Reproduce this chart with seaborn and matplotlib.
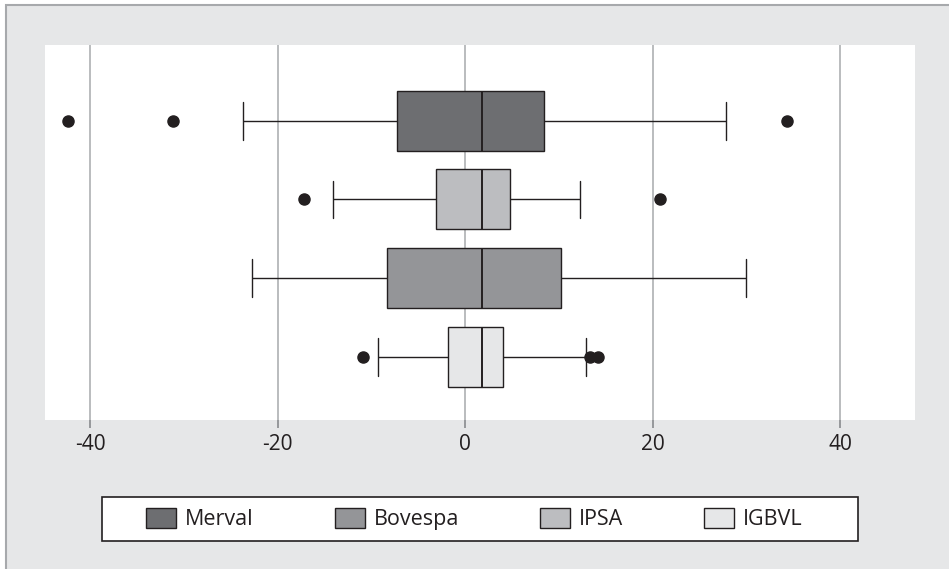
import numpy as np
import pandas as pd
import matplotlib
matplotlib.use("Agg")
import matplotlib.pyplot as plt
from matplotlib.patches import Patch, Rectangle
import seaborn as sns

# ---- data ----
indices = ["Merval", "IPSA", "Bovespa", "IGBVL"]          # top -> bottom
legend_order = ["Merval", "Bovespa", "IPSA", "IGBVL"]
q1 = [-7.25, -3.1, -8.3, -1.8]
median = [1.8, 1.8, 1.8, 1.8]
q3 = [8.4, 4.75, 10.2, 4.1]
whisker_low = [-23.7, -14.1, -22.7, -9.3]
whisker_high = [27.8, 12.3, 30.0, 12.9]
outliers_low = [[-42.4, -31.1], [-17.2], [], [-10.9]]
outliers_high = [[34.3], [20.75], [], [13.3, 14.2]]
colors = {"Merval": "#6d6e71", "Bovespa": "#949598", "IPSA": "#bcbdc0", "IGBVL": "#e6e7e8"}
xticks = [-40, -20, 0, 20, 40]

# observations that reproduce each box's quartiles, whiskers and outliers
rows = []
for i, name in enumerate(indices):
    lows = outliers_low[i] + [whisker_low[i]] * (3 - len(outliers_low[i]))
    highs = [whisker_high[i]] * (3 - len(outliers_high[i])) + outliers_high[i]
    obs = lows + [q1[i], q1[i], median[i], median[i], median[i], q3[i], q3[i]] + highs
    rows += [(name, v) for v in obs]
df = pd.DataFrame(rows, columns=["index", "value"])

sns.set_style("white")
plt.rcParams["font.family"] = ["Open Sans", "DejaVu Sans"]

W, H = 949, 569
fig = plt.figure(figsize=(W / 100, H / 100), dpi=100, facecolor="white")

# outer light-gray panel with thin border on top/left
fig.patches.append(Rectangle((6 / W, -0.2), 1.5, 0.2 + (H - 5) / H, transform=fig.transFigure,
                             facecolor="#e6e7e8", edgecolor="#a7a9ac", linewidth=1.5, zorder=-10))

ax = fig.add_axes([45 / W, (H - 420) / H, 870 / W, 375 / H])
ax.set_facecolor("white")

dark = "#231f20"
sns.boxplot(data=df, x="value", y="index", hue="index", order=indices, hue_order=legend_order,
            palette=colors, orient="h", width=0.76, whis=1.5, saturation=1, dodge=False,
            linecolor=dark, linewidth=1.0, fliersize=8, legend=False,
            flierprops=dict(marker="o", markerfacecolor=dark, markeredgecolor=dark),
            medianprops=dict(linewidth=1.4), capwidths=0.48,
            ax=ax)

ax.set_xlim(-44.8, 48.0)
ax.set_ylim(3.8, -0.96)
ax.set_xticks(xticks)
ax.set_xticklabels([str(t) for t in xticks])
ax.set_yticks([])
ax.set_xlabel("")
ax.set_ylabel("")
for s in ax.spines.values():
    s.set_visible(False)
ax.grid(axis="x", color="#a7a9ac", linewidth=1.1)
ax.set_axisbelow(True)
ax.tick_params(axis="x", bottom=True, length=6, width=1.1, color="#808285",
               labelsize=15, labelcolor=dark, pad=4)

# legend frame and entries
fig.patches.append(Rectangle((102 / W, (H - 541) / H), 756 / W, 44 / H, transform=fig.transFigure,
                             facecolor="white", edgecolor=dark, linewidth=1.2, zorder=-5))
handles = [Patch(facecolor=colors[n], edgecolor=dark, linewidth=1.0) for n in legend_order]
fig.legend(handles, legend_order, loc="center", bbox_to_anchor=(474.5 / W, (H - 519) / H),
           ncol=4, frameon=False, fontsize=15.5, handlelength=1.4, handleheight=1.03,
           handletextpad=0.42, columnspacing=3.75, labelcolor=dark)

fig.savefig("out.png", dpi=100, facecolor="white")
